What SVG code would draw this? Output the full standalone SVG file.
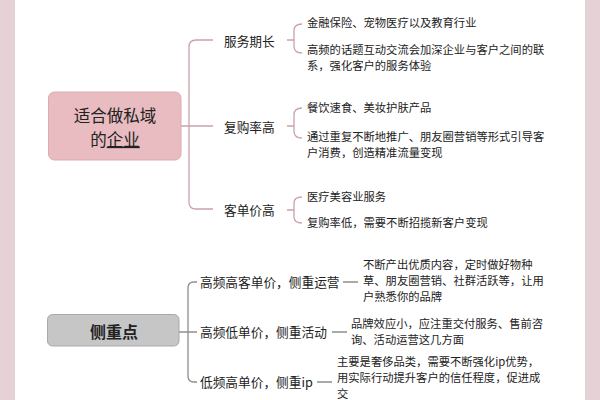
<svg xmlns="http://www.w3.org/2000/svg" width="600" height="400" viewBox="0 0 600 400">
<style>
text{font-family:"Noto Sans CJK SC","Noto Sans",sans-serif;fill:#222;}
.lbl{font-size:12.7px;}
.desc{font-size:11.3px;}
.pk{fill:none;stroke:#c9a3aa;stroke-width:1.3;}
.gy{fill:none;stroke:#8e8e8e;stroke-width:1.3;}
</style>
<rect x="0" y="0" width="600" height="400" fill="#ffffff"/>
<rect x="0" y="0" width="15" height="400" fill="#e6d1d7"/>
<rect x="585" y="0" width="15" height="400" fill="#e6d1d7"/>

<g id="connectors">
  <path class="pk" d="M181,126 H213 M213,40 H196 Q189,40 189,47 V202 Q189,209 196,209 H213"/>
  <path class="pk" d="M287,40 H294 M302,24 Q294,24 294,31 V46 Q294,53 302,53"/>
  <path class="pk" d="M287,126 H294 M302,108 Q294,108 294,115 V131 Q294,138 302,138"/>
  <path class="pk" d="M287,210 H294 M302,197 Q294,197 294,203 V217 Q294,223 302,223"/>
  <path class="gy" d="M179,332 H197 M197,282 H194 Q188,282 188,288 V376 Q188,382 194,382 H197"/>
  <path class="gy" d="M343,282 H358 M332,332 H347 M317,382 H332"/>
</g>

<g id="node-main">
  <rect x="48.5" y="92" width="132.5" height="68" rx="6" fill="#e9bcc1" stroke="#dcabb1" stroke-width="1"/>
  <text x="115" y="121.5" font-size="16.5" text-anchor="middle" fill="#3a2628">适合做私域</text>
  <text x="115" y="145.5" font-size="16.5" text-anchor="middle" fill="#3a2628">的<tspan text-decoration="underline">企业</tspan></text>
</g>

<g id="node-fuwu">
  <text class="lbl" x="224" y="45.5">服务期长</text>
  <text class="desc" x="307" y="27">金融保险、宠物医疗以及教育行业</text>
  <text class="desc" x="307" y="54">高频的话题互动交流会加深企业与客户之间的联</text>
  <text class="desc" x="307" y="69.5">系，强化客户的服务体验</text>
</g>

<g id="node-fugou">
  <text class="lbl" x="224" y="131.5">复购率高</text>
  <text class="desc" x="307" y="112">餐饮速食、美妆护肤产品</text>
  <text class="desc" x="307" y="141">通过重复不断地推广、朋友圈营销等形式引导客</text>
  <text class="desc" x="307" y="156.5">户消费，创造精准流量变现</text>
</g>

<g id="node-kedan">
  <text class="lbl" x="224" y="214.5">客单价高</text>
  <text class="desc" x="307" y="201">医疗美容业服务</text>
  <text class="desc" x="307" y="227">复购率低，需要不断招揽新客户变现</text>
</g>

<g id="node-cezhong">
  <rect x="47.5" y="314.5" width="131.5" height="31.5" rx="5" fill="#c6c6c6" stroke="#a9a9a9" stroke-width="1"/>
  <text x="114" y="338" font-size="16" font-weight="bold" text-anchor="middle" fill="#1e1e1e">侧重点</text>
</g>

<g id="node-yunying">
  <text class="lbl" x="200" y="286.5">高频高客单价，侧重运营</text>
  <text class="desc" x="363" y="269">不断产出优质内容，定时做好物种</text>
  <text class="desc" x="363" y="285">草、朋友圈营销、社群活跃等，让用</text>
  <text class="desc" x="363" y="300.5">户熟悉你的品牌</text>
</g>

<g id="node-huodong">
  <text class="lbl" x="200" y="336.5">高频低单价，侧重活动</text>
  <text class="desc" x="351" y="328">品牌效应小，应注重交付服务、售前咨</text>
  <text class="desc" x="351" y="343.5">询、活动运营这几方面</text>
</g>

<g id="node-ip">
  <text class="lbl" x="200" y="386.5">低频高单价，侧重ip</text>
  <text class="desc" x="337" y="366">主要是奢侈品类，需要不断强化ip优势，</text>
  <text class="desc" x="337" y="382">用实际行动提升客户的信任程度，促进成</text>
  <text class="desc" x="337" y="398">交</text>
</g>
</svg>
